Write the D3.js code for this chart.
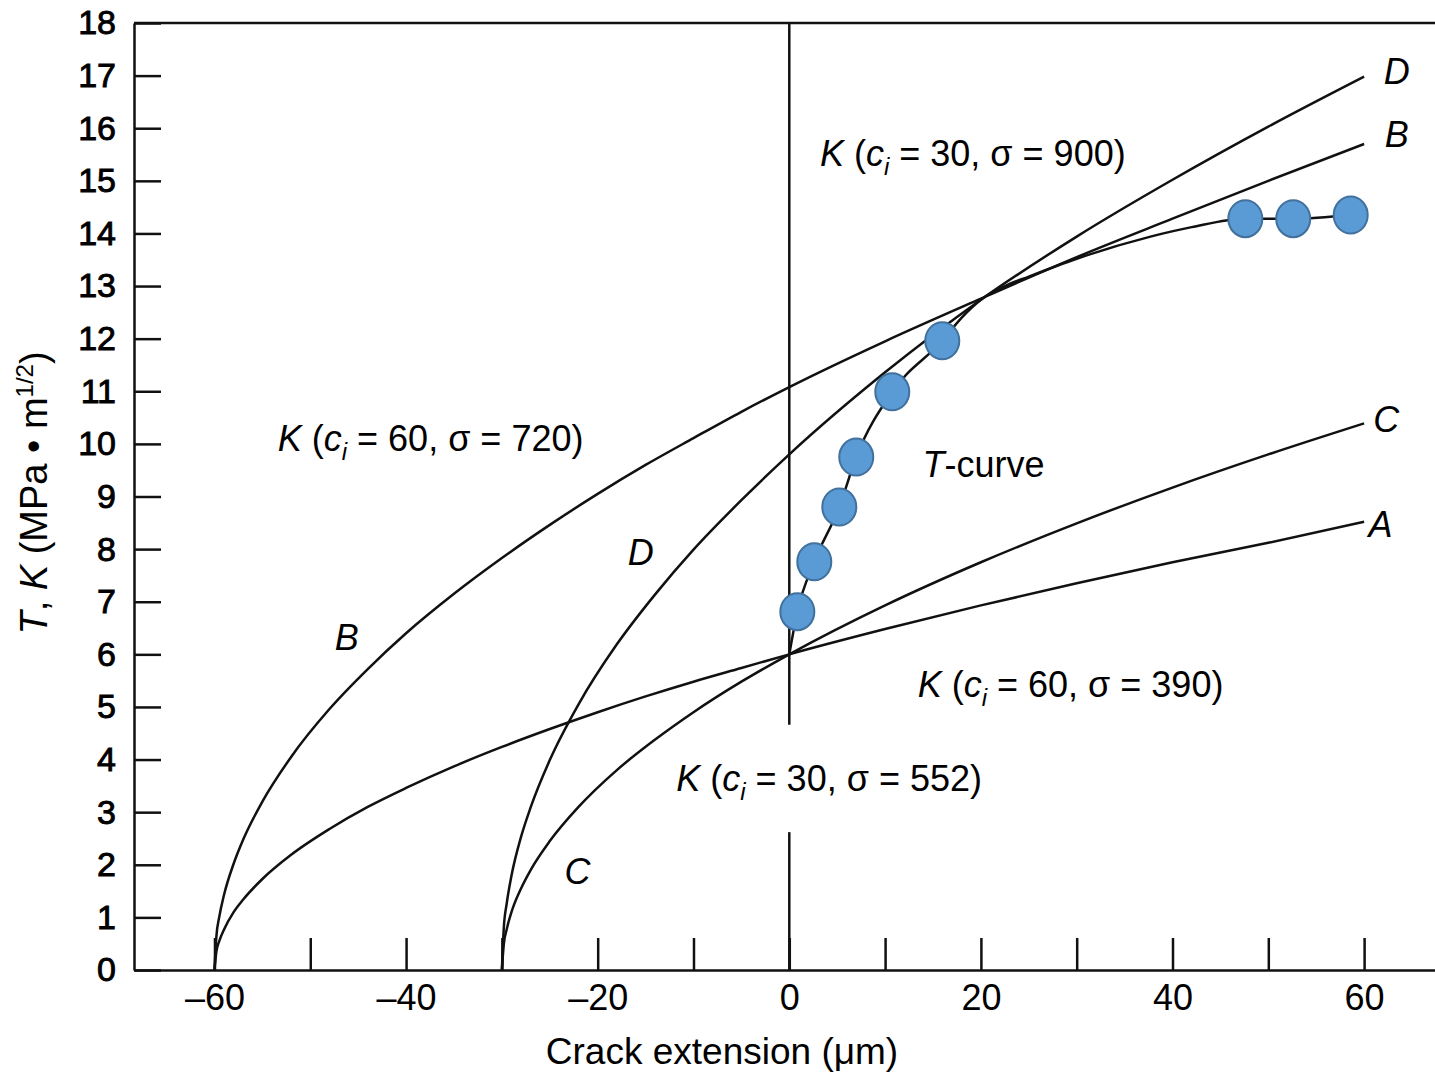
<!DOCTYPE html>
<html>
<head>
<meta charset="utf-8">
<script src="https://cdn.jsdelivr.net/npm/d3@7"></script>
<style>
    html, body { margin: 0; padding: 0; background: #fff; }
    svg { display: block; font-family: "Liberation Sans", Arial, sans-serif; }
</style>
</head>
<body>
<div id="chart"></div>
<script>
// Crack extension values (um) for the curves starting at c_i = 60 and c_i = 30
const crackFrom60 = [-60, -59.8, -59.5, -59, -58, -57, -55, -52, -48, -44, -40, -35, -30, -25, -20, -15, -10, -5, 0, 10, 20, 30, 40, 50, 60];
const crackFrom30 = [-30, -29.8, -29.5, -29, -28, -27, -25, -22, -18, -14, -10, -5, 0, 10, 20, 30, 40, 50, 60];

// K curves
const curveA = [0, 0.35, 0.55, 0.77, 1.10, 1.34, 1.73, 2.19, 2.68, 3.10, 3.46, 3.87, 4.24, 4.58, 4.90, 5.20, 5.48, 5.74, 6.00, 6.48, 6.93, 7.35, 7.75, 8.12, 8.52];
const curveB = [0, 0.64, 1.01, 1.43, 2.02, 2.48, 3.20, 4.05, 4.96, 5.72, 6.40, 7.15, 7.83, 8.46, 9.05, 9.60, 10.11, 10.61, 11.08, 11.95, 12.76, 13.55, 14.28, 15.00, 15.70];
const curveC = [0, 0.49, 0.77, 1.10, 1.55, 1.90, 2.45, 3.10, 3.80, 4.38, 4.90, 5.48, 6.00, 6.93, 7.75, 8.49, 9.17, 9.80, 10.39];
const curveD = [0, 0.80, 1.26, 1.79, 2.53, 3.09, 3.99, 5.05, 6.19, 7.14, 7.99, 8.93, 9.80, 11.36, 12.74, 13.94, 15.02, 16.03, 16.98];

// T-curve
const tCrack = [0, 0.84, 2.61, 5.22, 6.99, 10.75, 15.97, 18, 20, 22.5, 25, 30, 37.7, 42, 47.6, 52.6, 58.6];
const tValues = [6.0, 6.81, 7.76, 8.80, 9.75, 10.99, 11.96, 12.40, 12.74, 13.00, 13.18, 13.52, 13.94, 14.12, 14.28, 14.28, 14.35];

// measured points (blue dots)
const dotCrack = [0.84, 2.61, 5.22, 6.99, 10.75, 15.97, 47.6, 52.6, 58.6];
const dotT = [6.81, 7.76, 8.80, 9.75, 10.99, 11.96, 14.28, 14.28, 14.35];

// axes
const xTickValues = [-60, -50, -40, -30, -20, -10, 0, 10, 20, 30, 40, 50, 60];
const xTickLabels = ['–60', '', '–40', '', '–20', '', '0', '', '20', '', '40', '', '60'];
const yTickValues = [0, 1, 2, 3, 4, 5, 6, 7, 8, 9, 10, 11, 12, 13, 14, 15, 16, 17, 18];

// curve end letters
const letterText = ['D', 'B', 'C', 'A', 'B', 'D', 'C'];
const letterX = [63.4, 63.4, 62.3, 61.7, -46.2, -15.5, -22.1];
const letterY = [16.84, 15.65, 10.23, 8.23, 6.08, 7.70, 1.63];

// K(c_i, sigma) captions
const captionCi = [30, 60, 60, 30];
const captionSigma = [900, 720, 390, 552];
const captionX = [3.2, -53.4, 13.4, -11.8];
const captionY = [15.28, 9.87, 5.19, 3.40];

const width = 1435;
const height = 1074;
const margin = { top: 23, right: 0, bottom: 104, left: 134 };

const svg = d3.select('#chart')
    .append('svg')
    .attr('width', width)
    .attr('height', height);

svg.append('rect').attr('width', width).attr('height', height).attr('fill', '#fff');

const x = d3.scaleLinear()
    .domain([-68.4, 67.4])
    .range([margin.left, width - margin.right]);

const y = d3.scaleLinear()
    .domain([0, 18])
    .range([height - margin.bottom, margin.top]);

// top frame line
svg.append('line')
    .attr('x1', margin.left).attr('x2', width)
    .attr('y1', y(18)).attr('y2', y(18))
    .attr('stroke', '#111').attr('stroke-width', 2.5);

// x axis, ticks pointing up
const xAxis = svg.append('g')
    .attr('transform', `translate(0,${y(0)})`)
    .call(d3.axisBottom(x)
        .tickValues(xTickValues)
        .tickFormat((d, i) => xTickLabels[i])
        .tickSizeInner(-32)
        .tickSizeOuter(0)
        .tickPadding(14));

// y axis, ticks pointing right
const yAxis = svg.append('g')
    .attr('transform', `translate(${margin.left},0)`)
    .call(d3.axisLeft(y)
        .tickValues(yTickValues)
        .tickSizeInner(-27)
        .tickSizeOuter(0)
        .tickPadding(18));

svg.selectAll('.domain').attr('stroke', '#111').attr('stroke-width', 2.5);
svg.selectAll('.tick line').attr('stroke', '#111').attr('stroke-width', 2.5);
xAxis.selectAll('text')
    .attr('font-size', 36)
    .attr('font-family', '"Liberation Sans", Arial, sans-serif')
    .attr('fill', '#000');
yAxis.selectAll('text')
    .attr('font-size', 34)
    .attr('font-family', '"Liberation Sans", Arial, sans-serif')
    .attr('fill', '#000')
    .attr('stroke', '#000')
    .attr('stroke-width', 0.9);

// vertical line at zero crack extension, broken for the caption
const zeroSegments = [[18, 4.66], [2.62, 0]];
svg.selectAll('.zero-line')
    .data(zeroSegments)
    .enter()
    .append('line')
    .attr('x1', x(0)).attr('x2', x(0))
    .attr('y1', d => y(d[0])).attr('y2', d => y(d[1]))
    .attr('stroke', '#111')
    .attr('stroke-width', 2.5);

const line = d3.line()
    .x(d => x(d[0]))
    .y(d => y(d[1]))
    .curve(d3.curveMonotoneX);

const curves = [
    crackFrom60.map((c, i) => [c, curveA[i]]),
    crackFrom60.map((c, i) => [c, curveB[i]]),
    crackFrom30.map((c, i) => [c, curveC[i]]),
    crackFrom30.map((c, i) => [c, curveD[i]]),
    tCrack.map((c, i) => [c, tValues[i]])
];

svg.selectAll('.k-curve')
    .data(curves)
    .enter()
    .append('path')
    .attr('d', line)
    .attr('fill', 'none')
    .attr('stroke', '#111')
    .attr('stroke-width', 2.5);

// blue dots
svg.selectAll('.dot')
    .data(dotCrack.map((c, i) => [c, dotT[i]]))
    .enter()
    .append('ellipse')
    .attr('cx', d => x(d[0]))
    .attr('cy', d => y(d[1]))
    .attr('rx', 17)
    .attr('ry', 18.5)
    .attr('fill', '#5B9BD5')
    .attr('stroke', '#41719C')
    .attr('stroke-width', 2);

// curve letters
svg.selectAll('.letter')
    .data(letterText)
    .enter()
    .append('text')
    .attr('x', (d, i) => x(letterX[i]))
    .attr('y', (d, i) => y(letterY[i]))
    .attr('text-anchor', 'middle')
    .attr('font-size', 36)
    .attr('font-style', 'italic')
    .attr('fill', '#000')
    .text(d => d);

// captions K(c_i = .., sigma = ..)
captionCi.forEach((ci, i) => {
    const t = svg.append('text')
        .attr('x', x(captionX[i]))
        .attr('y', y(captionY[i]))
        .attr('font-size', 36)
        .attr('fill', '#000');
    t.append('tspan').attr('font-style', 'italic').text('K');
    t.append('tspan').text(' (');
    t.append('tspan').attr('font-style', 'italic').text('c');
    t.append('tspan').attr('font-style', 'italic').attr('font-size', 24).attr('dy', 9).text('i');
    t.append('tspan').attr('dy', -9).text(` = ${ci}, σ = ${captionSigma[i]})`);
});

// T-curve label
const tLabel = svg.append('text')
    .attr('x', x(13.9))
    .attr('y', y(9.37))
    .attr('font-size', 36)
    .attr('fill', '#000');
tLabel.append('tspan').attr('font-style', 'italic').text('T');
tLabel.append('tspan').text('-curve');

// axis titles
svg.append('text')
    .attr('x', 722)
    .attr('y', 1064)
    .attr('text-anchor', 'middle')
    .attr('font-size', 37)
    .attr('fill', '#000')
    .text('Crack extension (μm)');

const yTitle = svg.append('text')
    .attr('transform', 'translate(47,493) rotate(-90)')
    .attr('text-anchor', 'middle')
    .attr('font-size', 38)
    .attr('fill', '#000');
yTitle.append('tspan').attr('font-style', 'italic').text('T');
yTitle.append('tspan').text(', ');
yTitle.append('tspan').attr('font-style', 'italic').text('K');
yTitle.append('tspan').text(' (MPa • m');
yTitle.append('tspan').attr('font-size', 24).attr('dy', -14).text('1/2');
yTitle.append('tspan').attr('dy', 14).text(')');
</script>
</body>
</html>
